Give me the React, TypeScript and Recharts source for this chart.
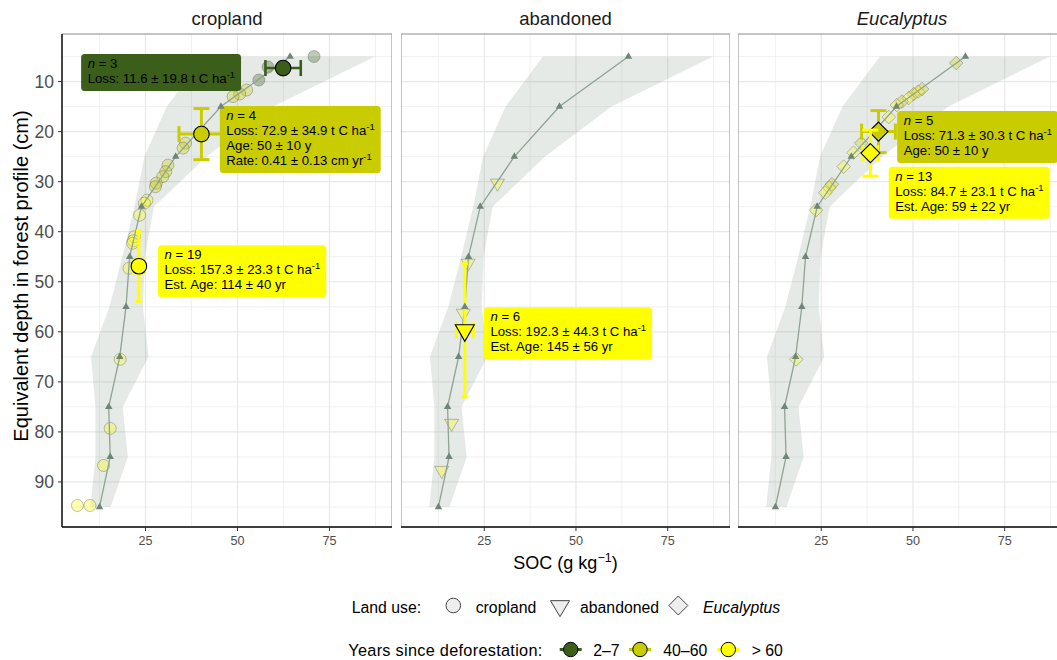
import React from 'react';
import {
  ComposedChart,
  XAxis,
  YAxis,
  CartesianGrid,
  Area,
  Line,
  Scatter,
  ErrorBar,
  ReferenceArea,
} from 'recharts';

const FONT = '"Liberation Sans", Arial, Helvetica, sans-serif';

// forest reference profile (same in every panel)
const forestDepth = [5, 15, 25, 35, 45, 55, 65, 75, 85, 95];
const forestSoc = [64.3, 45.5, 33.2, 23.9, 20.7, 19.7, 18.0, 15.0, 15.4, 12.5];
const forestLow = [41.0, 30.8, 24.7, 22.0, 18.7, 15.2, 10.2, 11.4, 11.4, 10.0];
const forestHigh = [87.4, 59.7, 41.6, 27.3, 24.8, 24.3, 25.8, 18.8, 20.2, 15.5];

const panels = ['cropland', 'abandoned', 'Eucalyptus'];
const panelShapes = ['circle', 'triangle', 'diamond'];
const groups = ['2–7', '40–60', '> 60'];
const groupColors = ['#3b5e1b', '#c9cc00', '#ffff00'];

// individual samples (group index into `groups`)
const cropSoc = [70.8, 58.3, 55.8, 52.5, 50.6, 48.8, 35.9, 35.2, 31.1, 30.5, 29.7, 27.9, 27.7, 25.4, 24.7, 23.4, 22.0, 21.7, 21.5, 20.5, 18.1, 15.4, 13.6, 6.5, 9.9];
const cropDepth = [5.0, 7.1, 9.7, 11.7, 12.5, 13.0, 22.3, 23.3, 26.7, 28.0, 29.0, 30.3, 31.0, 33.7, 34.3, 36.7, 41.0, 41.8, 42.3, 47.3, 65.5, 79.3, 86.7, 94.7, 94.7];
const cropGroup = [0, 0, 0, 1, 1, 1, 1, 1, 1, 1, 1, 1, 1, 2, 2, 2, 2, 2, 2, 2, 2, 2, 2, 2, 2];

const abanSoc = [28.6, 20.6, 19.3, 16.1, 13.4];
const abanDepth = [30.3, 46.3, 56.3, 78.3, 87.7];
const abanGroup = [2, 2, 2, 2, 2];

const eucSoc = [61.8, 52.5, 51.4, 50.2, 48.8, 47.0, 45.6, 43.4, 35.9, 33.8, 31.1, 27.9, 27.2, 26.1, 23.6, 18.2];
const eucDepth = [6.3, 11.5, 12.0, 12.5, 13.3, 14.0, 14.7, 17.1, 22.3, 24.2, 27.0, 30.5, 31.2, 32.2, 35.7, 65.5];
const eucGroup = [1, 1, 2, 1, 2, 1, 2, 2, 1, 2, 2, 1, 2, 2, 2, 2];

const sampleSets = [
  { soc: cropSoc, depth: cropDepth, g: cropGroup },
  { soc: abanSoc, depth: abanDepth, g: abanGroup },
  { soc: eucSoc, depth: eucDepth, g: eucGroup },
];

// group means with errors
const meanPanel = [0, 0, 0, 1, 2, 2];
const meanGroup = [0, 1, 2, 2, 1, 2];
const meanSoc = [62.4, 40.2, 23.2, 19.7, 40.6, 38.4];
const meanDepth = [7.3, 20.5, 46.9, 59.7, 20.0, 24.3];
const meanSocErr = [4.8, 6.1, 1.5, 2.3, 4.6, 2.0];
const meanDepthErr = [0, 5.1, 7.0, 13.3, 4.2, 4.6];

// summary labels (anchored at top-left corner, data units)
const labelPanel = [0, 0, 0, 1, 2, 2];
const labelGroup = [0, 1, 2, 2, 1, 2];
const labelSoc = [7.5, 45.2, 28.4, 24.9, 45.7, 43.4];
const labelDepth = [4.5, 14.9, 42.7, 55.1, 15.9, 27.0];
const labelLines = [
  ['*n* = 3', 'Loss: 11.6 ± 19.8 t C ha^-1'],
  ['*n* = 4', 'Loss: 72.9 ± 34.9 t C ha^-1', 'Age: 50 ± 10 y', 'Rate: 0.41 ± 0.13 cm yr^-1'],
  ['*n* = 19', 'Loss: 157.3 ± 23.3 t C ha^-1', 'Est. Age: 114 ± 40 yr'],
  ['*n* = 6', 'Loss: 192.3 ± 44.3 t C ha^-1', 'Est. Age: 145 ± 56 yr'],
  ['*n* = 5', 'Loss: 71.3 ± 30.3 t C ha^-1', 'Age: 50 ± 10 y'],
  ['*n* = 13', 'Loss: 84.7 ± 23.1 t C ha^-1', 'Est. Age: 59 ± 22 yr'],
];

const X_DOMAIN = [2.3, 92];
const Y_DOMAIN = [0.5, 99];
const xTicks = [25, 50, 75];
const xMinor = [12.5, 37.5, 62.5, 87.5];
const yTicks = [10, 20, 30, 40, 50, 60, 70, 80, 90];
const yMinor = [5, 15, 25, 35, 45, 55, 65, 75, 85, 95];

const LABEL_SIZE = 13.2;
const LEGEND_SIZE = 15.8;

let measureCtx: CanvasRenderingContext2D | null = null;
function measure(s: string, size: number, italic = false) {
  if (!measureCtx) measureCtx = document.createElement('canvas').getContext('2d');
  if (!measureCtx) return s.length * size * 0.55;
  measureCtx.font = `${italic ? 'italic ' : ''}${size}px "Liberation Sans"`;
  return measureCtx.measureText(s).width;
}

// *x* = italic, ^x = superscript to end of line
function parse(s: string) {
  const parts: { t: string; it?: boolean; sup?: boolean }[] = [];
  const re = /\*([^*]+)\*|\^(\S+)/g;
  let last = 0;
  let m;
  while ((m = re.exec(s))) {
    if (m.index > last) parts.push({ t: s.slice(last, m.index) });
    if (m[1]) parts.push({ t: m[1], it: true });
    else parts.push({ t: m[2], sup: true });
    last = m.index + m[0].length;
  }
  if (last < s.length) parts.push({ t: s.slice(last) });
  return parts;
}

function LabelBox(props: any) {
  const { cx, cy, payload } = props;
  if (cx == null || cy == null) return null;
  const lines: string[] = payload.lines;
  const widths = lines.map((l) =>
    parse(l).reduce((w, p) => w + measure(p.t, p.sup ? LABEL_SIZE * 0.72 : LABEL_SIZE, p.it), 0)
  );
  const w = Math.max(...widths) + 12.5;
  const h = 14 + (lines.length - 1) * 15 + 8;
  return (
    <g>
      <rect x={cx} y={cy} width={w} height={h} rx={3.5} fill={payload.fill} />
      {lines.map((l, i) => (
        <text key={i} x={cx + 6.5} y={cy + 14 + i * 15} fontSize={LABEL_SIZE} fontFamily={FONT} fill="#000">
          {parse(l).map((p, j) => (
            <tspan
              key={j}
              fontStyle={p.it ? 'italic' : undefined}
              fontSize={p.sup ? LABEL_SIZE * 0.72 : undefined}
              dy={p.sup ? -5 : undefined}
            >
              {p.t}
            </tspan>
          ))}
        </text>
      ))}
    </g>
  );
}

function Marker({ shape, cx, cy, big, fill }: any) {
  if (cx == null || cy == null) return null;
  const style = big
    ? { fill, stroke: '#000', strokeWidth: 1.1 }
    : { fill, fillOpacity: 0.32, stroke: '#4d4d4d', strokeOpacity: 0.35, strokeWidth: 1 };
  if (shape === 'circle') return <circle cx={cx} cy={cy} r={big ? 7.8 : 6} {...style} />;
  if (shape === 'triangle') {
    const w = big ? 19 : 14;
    const h = w * 0.87;
    return (
      <polygon
        points={`${cx - w / 2},${cy - h / 3} ${cx + w / 2},${cy - h / 3} ${cx},${cy + (2 * h) / 3}`}
        {...style}
      />
    );
  }
  const a = big ? 9.5 : 6.8;
  return <polygon points={`${cx},${cy - a} ${cx + a},${cy} ${cx},${cy + a} ${cx - a},${cy}`} {...style} />;
}

function ForestDot(props: any) {
  const { cx, cy, index } = props;
  if (cx == null || cy == null) return null;
  const w = 7.5;
  const h = 6.5;
  return (
    <polygon
      key={index}
      points={`${cx},${cy - (2 * h) / 3} ${cx + w / 2},${cy + h / 3} ${cx - w / 2},${cy + h / 3}`}
      fill="#6f8676"
    />
  );
}

const forestData = forestDepth.map((d, i) => ({ depth: d, soc: forestSoc[i] }));
const bandData = forestDepth.map((d, i) => ({ depth: d, range: [forestLow[i], forestHigh[i]] }));

function Panel({ idx, left, width, showY }: { idx: number; left: number; width: number; showY: boolean }) {
  const set = sampleSets[idx];
  const shape = panelShapes[idx];
  const samples = set.soc.map((s, i) => ({ soc: s, depth: set.depth[i], g: set.g[i] }));
  const means = meanPanel
    .map((p, i) => ({ p, i }))
    .filter((m) => m.p === idx)
    .map(({ i }) => ({
      soc: meanSoc[i],
      depth: meanDepth[i],
      socErr: meanSocErr[i],
      depthErr: meanDepthErr[i],
      g: meanGroup[i],
    }));
  const labels = labelPanel
    .map((p, i) => ({ p, i }))
    .filter((m) => m.p === idx)
    .map(({ i }) => ({
      soc: labelSoc[i],
      depth: labelDepth[i],
      lines: labelLines[i],
      fill: groupColors[labelGroup[i]],
    }));

  return (
    <div style={{ position: 'absolute', left, top: 0 }}>
      <ComposedChart
        layout="vertical"
        width={width}
        height={567}
        margin={{ top: 34, right: 0, bottom: 0, left: 0 }}
        style={{ fontFamily: FONT }}
      >
        <CartesianGrid stroke="#ededed" strokeWidth={0.8} horizontalValues={yMinor} verticalValues={xMinor} />
        <CartesianGrid stroke="#e8e8e8" strokeWidth={1.2} horizontalValues={yTicks} verticalValues={xTicks} />
        <XAxis
          type="number"
          domain={X_DOMAIN}
          ticks={xTicks}
          interval={0}
          height={40}
          tick={{ fontSize: 12.6, fill: '#4d4d4d', fontFamily: FONT }}
          tickSize={4}
          tickMargin={5}
          tickLine={{ stroke: '#333' }}
          axisLine={{ stroke: '#111', strokeWidth: 1.4 }}
        />
        {/* in vertical layout the numeric y axis already runs top-down */}
        <YAxis
          type="number"
          dataKey="depth"
          domain={Y_DOMAIN}
          ticks={yTicks}
          interval={0}
          hide={!showY}
          width={62}
          tick={{ fontSize: 17.5, fill: '#4d4d4d', fontFamily: FONT }}
          tickSize={4}
          tickMargin={4}
          tickLine={{ stroke: '#333' }}
          axisLine={{ stroke: '#111', strokeWidth: 1.4 }}
        />
        <ReferenceArea
          x1={X_DOMAIN[0]}
          x2={X_DOMAIN[1]}
          y1={Y_DOMAIN[0]}
          y2={Y_DOMAIN[1]}
          fill="none"
          stroke="#8c8c8c"
          strokeWidth={1}
          ifOverflow="visible"
        />
        <Area
          data={bandData}
          dataKey="range"
          type="linear"
          stroke="none"
          fill="#7f9684"
          fillOpacity={0.2}
          isAnimationActive={false}
          zIndex={100}
        />
        <Scatter
          data={samples}
          dataKey="soc"
          isAnimationActive={false}
          zIndex={200}
          shape={(p: any) => <Marker shape={shape} cx={p.cx} cy={p.cy} fill={groupColors[p.payload.g]} />}
        />
        <Line
          data={forestData}
          dataKey="soc"
          type="linear"
          stroke="#8ea393"
          strokeWidth={1.3}
          dot={ForestDot}
          activeDot={false}
          isAnimationActive={false}
          zIndex={300}
        />
        {means.map((m, i) => {
          // yellow bars in the bare profiles have no visible caps
          const cap = m.g === 2 && idx < 2 ? 3 : 8;
          return (
            <Scatter
              key={i}
              data={[m]}
              dataKey="soc"
              isAnimationActive={false}
              zIndex={400 + i}
              shape={(p: any) => <Marker shape={shape} big cx={p.cx} cy={p.cy} fill={groupColors[m.g]} />}
            >
              <ErrorBar dataKey="socErr" direction="x" width={8} stroke={groupColors[m.g]} strokeWidth={m.g === 0 ? 2.6 : 3} />
              <ErrorBar dataKey="depthErr" direction="y" width={cap} stroke={groupColors[m.g]} strokeWidth={3} />
            </Scatter>
          );
        })}
        <Scatter data={labels} dataKey="soc" isAnimationActive={false} zIndex={500} shape={LabelBox} />
      </ComposedChart>
    </div>
  );
}

function LegendGlyph({ shape, cx, cy }: { shape: string; cx: number; cy: number }) {
  const style = { fill: '#eeeeee', stroke: '#444', strokeWidth: 1 };
  if (shape === 'circle') return <circle cx={cx} cy={cy} r={7.3} {...style} />;
  if (shape === 'triangle') {
    const w = 19;
    const h = 16;
    return <polygon points={`${cx - w / 2},${cy - h / 3} ${cx + w / 2},${cy - h / 3} ${cx},${cy + (2 * h) / 3}`} {...style} />;
  }
  const a = 9.5;
  return <polygon points={`${cx},${cy - a} ${cx + a},${cy} ${cx},${cy + a} ${cx - a},${cy}`} {...style} />;
}

const shapeLegendX = [453.3, 560, 678.3];
const shapeLegendTextX = [475.7, 580, 703];
const groupLegendX = [570.7, 640, 728.3];
const groupLegendTextX = [593.3, 663.3, 751.7];

function Overlay() {
  const panelCenters = [227, 565.5, 902];
  return (
    <svg
      width={1057}
      height={660}
      style={{ position: 'absolute', left: 0, top: 0, pointerEvents: 'none' }}
      fontFamily={FONT}
    >
      {panels.map((p, i) => (
        <text key={p} x={panelCenters[i]} y={25} textAnchor="middle" fontSize={18.5} fill="#1a1a1a" fontStyle={i === 2 ? 'italic' : undefined}>
          {p}
        </text>
      ))}
      <text transform="translate(27.5,276) rotate(-90)" textAnchor="middle" fontSize={20} fill="#000">
        Equivalent depth in forest profile (cm)
      </text>
      <text x={565.5} y={569} textAnchor="middle" fontSize={18} fill="#000">
        SOC (g kg<tspan fontSize={12.5} dy={-7}>−1</tspan>
        <tspan dy={7}>)</tspan>
      </text>

      {/* Land use legend */}
      <text x={351.7} y={612.5} fontSize={LEGEND_SIZE} fill="#000">Land use:</text>
      {panels.map((p, i) => (
        <g key={p}>
          <LegendGlyph shape={panelShapes[i]} cx={shapeLegendX[i]} cy={i === 1 ? 606 : 605.5} />
          <text x={shapeLegendTextX[i]} y={612.5} fontSize={LEGEND_SIZE} fill="#000" fontStyle={i === 2 ? 'italic' : undefined}>
            {p}
          </text>
        </g>
      ))}

      {/* Years legend */}
      <text x={348.3} y={656} fontSize={16.3} textLength={194} fill="#000">Years since deforestation:</text>
      {groups.map((g, i) => (
        <g key={g}>
          <line x1={groupLegendX[i] - 11} x2={groupLegendX[i] + 11} y1={649.5} y2={649.5} stroke={groupColors[i]} strokeWidth={3} />
          <circle cx={groupLegendX[i]} cy={649.5} r={7.2} fill={groupColors[i]} stroke="#000" strokeWidth={1} />
          <text x={groupLegendTextX[i]} y={656} fontSize={LEGEND_SIZE} fill="#000">{g}</text>
        </g>
      ))}
    </svg>
  );
}

export default function App() {
  return (
    <div
      style={{
        position: 'absolute',
        left: 0,
        top: 0,
        width: 1057,
        height: 660,
        overflow: 'hidden',
        background: '#fff',
        fontFamily: FONT,
      }}
    >
      <Panel idx={0} left={0} width={392} showY />
      <Panel idx={1} left={401} width={329} showY={false} />
      <Panel idx={2} left={738} width={329} showY={false} />
      <Overlay />
    </div>
  );
}
